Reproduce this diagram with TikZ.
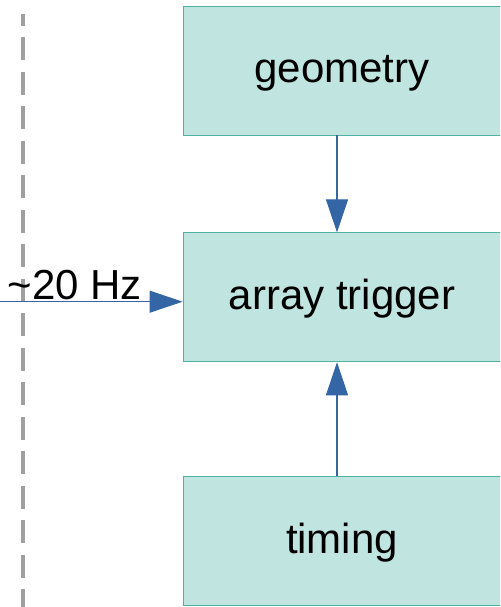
\documentclass[tikz,border=0pt]{standalone}
\usepackage{fontspec}
\setmainfont{Liberation Sans}
\usepackage{tikz}
\usetikzlibrary{positioning}
\usetikzlibrary{arrows.meta}
\definecolor{boxfill}{RGB}{192,228,223}
\definecolor{boxline}{RGB}{77,178,160}
\definecolor{arrowblue}{RGB}{52,101,164}
\definecolor{dashgray}{RGB}{160,160,160}

\begin{document}
\begin{tikzpicture} [x=0.02cm, y=-0.02cm, font=\fontsize{23.9}{28}\selectfont,
        box/.style = {draw=boxline, fill=boxfill, line width=0.5pt, minimum width=6.36cm, minimum height=2.58cm, inner sep=0pt, text height=0.6cm, text depth=0.12cm},
        flow/.style = {draw=arrowblue, line width=0.6pt, -{Triangle[length=0.66cm, width=0.44cm, fill=arrowblue]}}]
        \clip (0,0) rectangle (500,607);

        %Knoten
        \node[box] (geo) at (342,70.5) {geometry};
        \node[box] (trig) [below = 1.94cm of geo] {array trigger};
        \node[box] (tim) [below = 2.28cm of trig] {timing};

        \coordinate (in) at (0,301.7);
        \coordinate (top) at (23,14);
        \coordinate (bot) at (23,607);

        %Trennlinie
        \draw[dashgray, line width=2pt, dash pattern=on 0.46cm off 0.23cm, dash phase=0.22cm] (top) -- (bot);

        %Kanten
        \draw[flow] ([xshift=-0.1cm]geo.south) -- ([xshift=-0.1cm]trig.north);
        \draw[flow] ([xshift=-0.1cm]tim.north) -- ([xshift=-0.1cm]trig.south);
        \draw[flow] (in) -- (trig.west |- in) node[pos=0.41, anchor=base, yshift=1.5pt, inner sep=0pt] {\textasciitilde 20 Hz};

    \end{tikzpicture}
\end{document}
